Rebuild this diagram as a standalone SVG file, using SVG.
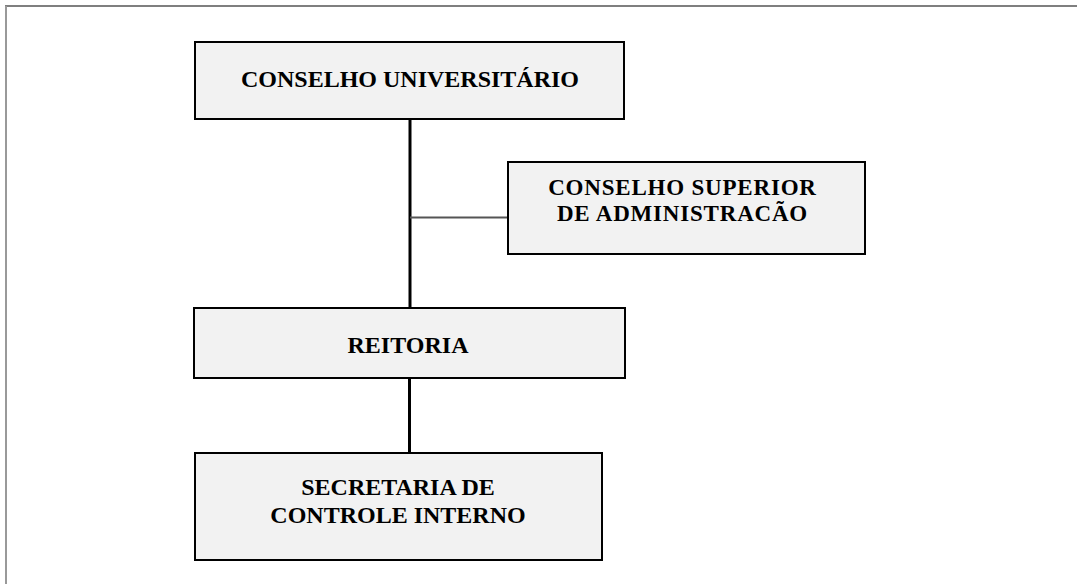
<svg xmlns="http://www.w3.org/2000/svg" width="1078" height="584" viewBox="0 0 1078 584">
<style>
.box{fill:#f2f2f2;stroke:#000;stroke-width:2}
.t{font-family:"Liberation Serif","Times New Roman",serif;font-weight:bold;font-size:24px;fill:#000;text-anchor:middle}
.t2{font-size:23px;letter-spacing:0.8px}
</style>
<rect width="1078" height="584" fill="#fff"/>
<g id="frame">
<line x1="5" y1="6" x2="1077" y2="6" stroke="#555" stroke-width="1.5"/>
<line x1="6" y1="6" x2="6" y2="584" stroke="#999" stroke-width="2"/>
</g>
<g id="connectors">
<line x1="410" y1="119" x2="410" y2="307" stroke="#000" stroke-width="3"/>
<line x1="410" y1="217.5" x2="507" y2="217.5" stroke="#555" stroke-width="2"/>
<line x1="409.5" y1="379" x2="409.5" y2="452" stroke="#000" stroke-width="3"/>
</g>
<g id="conselho-universitario">
<rect class="box" x="195" y="42" width="429" height="77"/>
<text class="t" x="410" y="87">CONSELHO UNIVERSITÁRIO</text>
</g>
<g id="conselho-superior">
<rect class="box" x="508" y="162" width="357" height="92"/>
<text class="t t2" x="682.5" y="194.5">CONSELHO SUPERIOR</text>
<text class="t t2" x="682.5" y="220.5">DE ADMINISTRACÃO</text>
</g>
<g id="reitoria">
<rect class="box" x="194" y="308" width="431" height="70"/>
<text class="t" x="408" y="352.5">REITORIA</text>
</g>
<g id="secretaria">
<rect class="box" x="195" y="453" width="407" height="107"/>
<text class="t" x="398" y="495">SECRETARIA DE</text>
<text class="t" x="398" y="522.5">CONTROLE INTERNO</text>
</g>
</svg>
